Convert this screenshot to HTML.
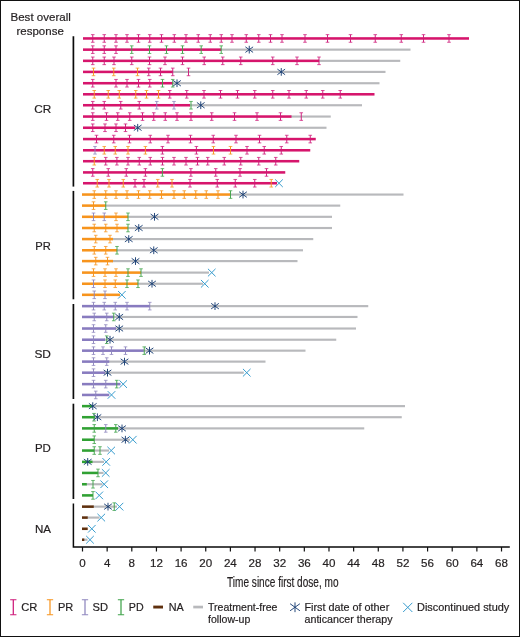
<!DOCTYPE html>
<html><head><meta charset="utf-8"><title>Swimmer plot</title>
<style>html,body{margin:0;padding:0;background:#fff}svg{display:block;will-change:transform}text{stroke:#231f20;stroke-width:.2px}</style></head>
<body>
<svg width="520" height="637" viewBox="0 0 520 637" font-family="'Liberation Sans', Arial, sans-serif" fill="#231f20">
<rect x="0" y="0" width="520" height="637" fill="#fff"/>
<rect x="83.00" y="37.18" width="386.00" height="2.55" fill="#D6156C"/>
<rect x="220.20" y="48.56" width="190.30" height="2.15" fill="#B8B9BC"/>
<rect x="83.00" y="48.37" width="138.20" height="2.55" fill="#D6156C"/>
<rect x="318.00" y="59.77" width="82.25" height="2.15" fill="#B8B9BC"/>
<rect x="83.00" y="59.57" width="236.00" height="2.55" fill="#D6156C"/>
<rect x="171.75" y="70.83" width="213.75" height="2.15" fill="#B8B9BC"/>
<rect x="83.00" y="70.63" width="89.75" height="2.55" fill="#D6156C"/>
<rect x="171.75" y="82.16" width="207.75" height="2.15" fill="#B8B9BC"/>
<rect x="83.00" y="81.95" width="89.75" height="2.55" fill="#D6156C"/>
<rect x="83.00" y="93.02" width="291.50" height="2.55" fill="#D6156C"/>
<rect x="189.00" y="104.17" width="173.00" height="2.15" fill="#B8B9BC"/>
<rect x="83.00" y="103.97" width="107.00" height="2.55" fill="#D6156C"/>
<rect x="290.50" y="115.48" width="40.25" height="2.15" fill="#B8B9BC"/>
<rect x="83.00" y="115.28" width="208.50" height="2.55" fill="#D6156C"/>
<rect x="134.00" y="126.69" width="192.50" height="2.15" fill="#B8B9BC"/>
<rect x="83.00" y="126.48" width="52.00" height="2.55" fill="#D6156C"/>
<rect x="83.00" y="137.81" width="232.75" height="2.55" fill="#D6156C"/>
<rect x="83.00" y="149.00" width="227.25" height="2.55" fill="#D6156C"/>
<rect x="83.00" y="159.94" width="216.25" height="2.55" fill="#D6156C"/>
<rect x="83.00" y="171.14" width="202.25" height="2.55" fill="#D6156C"/>
<rect x="83.00" y="181.97" width="194.00" height="2.55" fill="#D6156C"/>
<rect x="229.50" y="193.49" width="174.00" height="2.15" fill="#B8B9BC"/>
<rect x="82.00" y="193.28" width="148.50" height="2.55" fill="#F7941D"/>
<rect x="104.75" y="204.55" width="235.50" height="2.15" fill="#B8B9BC"/>
<rect x="82.00" y="204.34" width="23.75" height="2.55" fill="#F7941D"/>
<rect x="127.00" y="215.75" width="205.00" height="2.15" fill="#B8B9BC"/>
<rect x="82.00" y="215.54" width="46.00" height="2.55" fill="#F7941D"/>
<rect x="127.00" y="226.94" width="205.00" height="2.15" fill="#B8B9BC"/>
<rect x="82.00" y="226.73" width="46.00" height="2.55" fill="#F7941D"/>
<rect x="112.00" y="238.01" width="201.25" height="2.15" fill="#B8B9BC"/>
<rect x="82.00" y="237.81" width="31.00" height="2.55" fill="#F7941D"/>
<rect x="116.00" y="249.21" width="187.00" height="2.15" fill="#B8B9BC"/>
<rect x="82.00" y="249.00" width="35.00" height="2.55" fill="#F7941D"/>
<rect x="112.00" y="260.03" width="185.50" height="2.15" fill="#B8B9BC"/>
<rect x="82.00" y="259.83" width="31.00" height="2.55" fill="#F7941D"/>
<rect x="140.00" y="271.53" width="69.00" height="2.15" fill="#B8B9BC"/>
<rect x="82.00" y="271.33" width="59.00" height="2.55" fill="#F7941D"/>
<rect x="137.00" y="282.67" width="66.00" height="2.15" fill="#B8B9BC"/>
<rect x="82.00" y="282.47" width="56.00" height="2.55" fill="#F7941D"/>
<rect x="82.00" y="293.54" width="38.00" height="2.55" fill="#F7941D"/>
<rect x="148.75" y="305.06" width="219.50" height="2.15" fill="#B8B9BC"/>
<rect x="82.00" y="304.86" width="67.75" height="2.55" fill="#887BBF"/>
<rect x="112.75" y="315.88" width="244.75" height="2.15" fill="#B8B9BC"/>
<rect x="82.00" y="315.68" width="31.75" height="2.55" fill="#887BBF"/>
<rect x="115.00" y="327.44" width="241.00" height="2.15" fill="#B8B9BC"/>
<rect x="82.00" y="327.25" width="34.00" height="2.55" fill="#887BBF"/>
<rect x="104.00" y="338.65" width="232.25" height="2.15" fill="#B8B9BC"/>
<rect x="82.00" y="338.45" width="23.00" height="2.55" fill="#887BBF"/>
<rect x="142.75" y="349.59" width="162.75" height="2.15" fill="#B8B9BC"/>
<rect x="82.00" y="349.39" width="61.75" height="2.55" fill="#887BBF"/>
<rect x="108.25" y="360.54" width="157.25" height="2.15" fill="#B8B9BC"/>
<rect x="82.00" y="360.34" width="27.25" height="2.55" fill="#887BBF"/>
<rect x="104.00" y="371.61" width="139.75" height="2.15" fill="#B8B9BC"/>
<rect x="82.00" y="371.41" width="23.00" height="2.55" fill="#887BBF"/>
<rect x="82.00" y="382.85" width="38.50" height="2.55" fill="#887BBF"/>
<rect x="82.00" y="393.67" width="27.30" height="2.55" fill="#887BBF"/>
<rect x="91.50" y="405.06" width="313.50" height="2.15" fill="#B8B9BC"/>
<rect x="82.00" y="404.86" width="10.50" height="2.55" fill="#30A133"/>
<rect x="94.00" y="416.13" width="307.75" height="2.15" fill="#B8B9BC"/>
<rect x="82.00" y="415.94" width="13.00" height="2.55" fill="#30A133"/>
<rect x="117.00" y="427.32" width="247.25" height="2.15" fill="#B8B9BC"/>
<rect x="82.00" y="427.12" width="36.00" height="2.55" fill="#30A133"/>
<rect x="93.25" y="438.65" width="36.75" height="2.15" fill="#B8B9BC"/>
<rect x="82.00" y="438.45" width="12.25" height="2.55" fill="#30A133"/>
<rect x="93.25" y="449.47" width="15.75" height="2.15" fill="#B8B9BC"/>
<rect x="82.00" y="449.27" width="12.25" height="2.55" fill="#30A133"/>
<rect x="91.50" y="460.79" width="12.50" height="2.15" fill="#B8B9BC"/>
<rect x="82.00" y="460.59" width="10.50" height="2.55" fill="#30A133"/>
<rect x="97.00" y="471.86" width="6.50" height="2.15" fill="#B8B9BC"/>
<rect x="82.00" y="471.66" width="16.00" height="2.55" fill="#30A133"/>
<rect x="85.80" y="483.18" width="16.70" height="2.15" fill="#B8B9BC"/>
<rect x="82.00" y="482.98" width="4.80" height="2.55" fill="#30A133"/>
<rect x="82.00" y="494.12" width="11.00" height="2.55" fill="#30A133"/>
<rect x="92.75" y="505.56" width="24.25" height="2.15" fill="#B8B9BC"/>
<rect x="82.00" y="505.37" width="11.75" height="2.55" fill="#5F300E"/>
<rect x="86.70" y="516.51" width="12.80" height="2.15" fill="#B8B9BC"/>
<rect x="82.00" y="516.32" width="5.70" height="2.55" fill="#5F300E"/>
<rect x="82.00" y="527.50" width="5.70" height="2.55" fill="#5F300E"/>
<rect x="83.30" y="538.65" width="4.20" height="2.15" fill="#B8B9BC"/>
<rect x="82.00" y="538.46" width="2.30" height="2.55" fill="#5F300E"/>
<path d="M92.75 34.65V42.25" stroke="#CE1A79" stroke-width="0.95" fill="none"/><path d="M90.95 34.65H94.55M90.95 42.25H94.55" stroke="#CE1A79" stroke-width="0.75" fill="none"/>
<path d="M104.25 34.65V42.25" stroke="#CE1A79" stroke-width="0.95" fill="none"/><path d="M102.45 34.65H106.05M102.45 42.25H106.05" stroke="#CE1A79" stroke-width="0.75" fill="none"/>
<path d="M116.00 34.65V42.25" stroke="#CE1A79" stroke-width="0.95" fill="none"/><path d="M114.20 34.65H117.80M114.20 42.25H117.80" stroke="#CE1A79" stroke-width="0.75" fill="none"/>
<path d="M127.00 34.65V42.25" stroke="#CE1A79" stroke-width="0.95" fill="none"/><path d="M125.20 34.65H128.80M125.20 42.25H128.80" stroke="#CE1A79" stroke-width="0.75" fill="none"/>
<path d="M138.50 34.65V42.25" stroke="#CE1A79" stroke-width="0.95" fill="none"/><path d="M136.70 34.65H140.30M136.70 42.25H140.30" stroke="#CE1A79" stroke-width="0.75" fill="none"/>
<path d="M149.75 34.65V42.25" stroke="#CE1A79" stroke-width="0.95" fill="none"/><path d="M147.95 34.65H151.55M147.95 42.25H151.55" stroke="#CE1A79" stroke-width="0.75" fill="none"/>
<path d="M161.50 34.65V42.25" stroke="#CE1A79" stroke-width="0.95" fill="none"/><path d="M159.70 34.65H163.30M159.70 42.25H163.30" stroke="#CE1A79" stroke-width="0.75" fill="none"/>
<path d="M174.30 34.65V42.25" stroke="#CE1A79" stroke-width="0.95" fill="none"/><path d="M172.50 34.65H176.10M172.50 42.25H176.10" stroke="#CE1A79" stroke-width="0.75" fill="none"/>
<path d="M186.00 34.65V42.25" stroke="#CE1A79" stroke-width="0.95" fill="none"/><path d="M184.20 34.65H187.80M184.20 42.25H187.80" stroke="#CE1A79" stroke-width="0.75" fill="none"/>
<path d="M198.25 34.65V42.25" stroke="#CE1A79" stroke-width="0.95" fill="none"/><path d="M196.45 34.65H200.05M196.45 42.25H200.05" stroke="#CE1A79" stroke-width="0.75" fill="none"/>
<path d="M210.25 34.65V42.25" stroke="#CE1A79" stroke-width="0.95" fill="none"/><path d="M208.45 34.65H212.05M208.45 42.25H212.05" stroke="#CE1A79" stroke-width="0.75" fill="none"/>
<path d="M221.25 34.65V42.25" stroke="#CE1A79" stroke-width="0.95" fill="none"/><path d="M219.45 34.65H223.05M219.45 42.25H223.05" stroke="#CE1A79" stroke-width="0.75" fill="none"/>
<path d="M232.00 34.65V42.25" stroke="#CE1A79" stroke-width="0.95" fill="none"/><path d="M230.20 34.65H233.80M230.20 42.25H233.80" stroke="#CE1A79" stroke-width="0.75" fill="none"/>
<path d="M246.25 34.65V42.25" stroke="#CE1A79" stroke-width="0.95" fill="none"/><path d="M244.45 34.65H248.05M244.45 42.25H248.05" stroke="#CE1A79" stroke-width="0.75" fill="none"/>
<path d="M258.75 34.65V42.25" stroke="#CE1A79" stroke-width="0.95" fill="none"/><path d="M256.95 34.65H260.55M256.95 42.25H260.55" stroke="#CE1A79" stroke-width="0.75" fill="none"/>
<path d="M270.50 34.65V42.25" stroke="#CE1A79" stroke-width="0.95" fill="none"/><path d="M268.70 34.65H272.30M268.70 42.25H272.30" stroke="#CE1A79" stroke-width="0.75" fill="none"/>
<path d="M282.00 34.65V42.25" stroke="#CE1A79" stroke-width="0.95" fill="none"/><path d="M280.20 34.65H283.80M280.20 42.25H283.80" stroke="#CE1A79" stroke-width="0.75" fill="none"/>
<path d="M305.00 34.65V42.25" stroke="#CE1A79" stroke-width="0.95" fill="none"/><path d="M303.20 34.65H306.80M303.20 42.25H306.80" stroke="#CE1A79" stroke-width="0.75" fill="none"/>
<path d="M327.50 34.65V42.25" stroke="#CE1A79" stroke-width="0.95" fill="none"/><path d="M325.70 34.65H329.30M325.70 42.25H329.30" stroke="#CE1A79" stroke-width="0.75" fill="none"/>
<path d="M350.50 34.65V42.25" stroke="#CE1A79" stroke-width="0.95" fill="none"/><path d="M348.70 34.65H352.30M348.70 42.25H352.30" stroke="#CE1A79" stroke-width="0.75" fill="none"/>
<path d="M375.25 34.65V42.25" stroke="#CE1A79" stroke-width="0.95" fill="none"/><path d="M373.45 34.65H377.05M373.45 42.25H377.05" stroke="#CE1A79" stroke-width="0.75" fill="none"/>
<path d="M401.25 34.65V42.25" stroke="#CE1A79" stroke-width="0.95" fill="none"/><path d="M399.45 34.65H403.05M399.45 42.25H403.05" stroke="#CE1A79" stroke-width="0.75" fill="none"/>
<path d="M423.50 34.65V42.25" stroke="#CE1A79" stroke-width="0.95" fill="none"/><path d="M421.70 34.65H425.30M421.70 42.25H425.30" stroke="#CE1A79" stroke-width="0.75" fill="none"/>
<path d="M449.00 34.65V42.25" stroke="#CE1A79" stroke-width="0.95" fill="none"/><path d="M447.20 34.65H450.80M447.20 42.25H450.80" stroke="#CE1A79" stroke-width="0.75" fill="none"/>
<path d="M92.75 45.84V53.44" stroke="#CE1A79" stroke-width="0.95" fill="none"/><path d="M90.95 45.84H94.55M90.95 53.44H94.55" stroke="#CE1A79" stroke-width="0.75" fill="none"/>
<path d="M104.25 45.84V53.44" stroke="#CE1A79" stroke-width="0.95" fill="none"/><path d="M102.45 45.84H106.05M102.45 53.44H106.05" stroke="#CE1A79" stroke-width="0.75" fill="none"/>
<path d="M116.00 45.84V53.44" stroke="#CE1A79" stroke-width="0.95" fill="none"/><path d="M114.20 45.84H117.80M114.20 53.44H117.80" stroke="#CE1A79" stroke-width="0.75" fill="none"/>
<path d="M131.75 45.84V53.44" stroke="#3FA34A" stroke-width="0.95" fill="none"/><path d="M129.95 45.84H133.55M129.95 53.44H133.55" stroke="#3FA34A" stroke-width="0.75" fill="none"/>
<path d="M149.50 45.84V53.44" stroke="#3FA34A" stroke-width="0.95" fill="none"/><path d="M147.70 45.84H151.30M147.70 53.44H151.30" stroke="#3FA34A" stroke-width="0.75" fill="none"/>
<path d="M166.50 45.84V53.44" stroke="#3FA34A" stroke-width="0.95" fill="none"/><path d="M164.70 45.84H168.30M164.70 53.44H168.30" stroke="#3FA34A" stroke-width="0.75" fill="none"/>
<path d="M182.50 45.84V53.44" stroke="#3FA34A" stroke-width="0.95" fill="none"/><path d="M180.70 45.84H184.30M180.70 53.44H184.30" stroke="#3FA34A" stroke-width="0.75" fill="none"/>
<path d="M201.20 45.84V53.44" stroke="#3FA34A" stroke-width="0.95" fill="none"/><path d="M199.40 45.84H203.00M199.40 53.44H203.00" stroke="#3FA34A" stroke-width="0.75" fill="none"/>
<path d="M221.20 45.84V53.44" stroke="#3FA34A" stroke-width="0.95" fill="none"/><path d="M219.40 45.84H223.00M219.40 53.44H223.00" stroke="#3FA34A" stroke-width="0.75" fill="none"/>
<path d="M249.25 45.79V53.49M245.40 46.87L253.10 52.41M245.40 52.41L253.10 46.87" stroke="#1B4075" stroke-width="0.95" fill="none"/>
<path d="M92.75 57.04V64.64" stroke="#CE1A79" stroke-width="0.95" fill="none"/><path d="M90.95 57.04H94.55M90.95 64.64H94.55" stroke="#CE1A79" stroke-width="0.75" fill="none"/>
<path d="M104.25 57.04V64.64" stroke="#CE1A79" stroke-width="0.95" fill="none"/><path d="M102.45 57.04H106.05M102.45 64.64H106.05" stroke="#CE1A79" stroke-width="0.75" fill="none"/>
<path d="M114.00 57.04V64.64" stroke="#CE1A79" stroke-width="0.95" fill="none"/><path d="M112.20 57.04H115.80M112.20 64.64H115.80" stroke="#CE1A79" stroke-width="0.75" fill="none"/>
<path d="M131.75 57.04V64.64" stroke="#CE1A79" stroke-width="0.95" fill="none"/><path d="M129.95 57.04H133.55M129.95 64.64H133.55" stroke="#CE1A79" stroke-width="0.75" fill="none"/>
<path d="M149.50 57.04V64.64" stroke="#CE1A79" stroke-width="0.95" fill="none"/><path d="M147.70 57.04H151.30M147.70 64.64H151.30" stroke="#CE1A79" stroke-width="0.75" fill="none"/>
<path d="M165.00 57.04V64.64" stroke="#CE1A79" stroke-width="0.95" fill="none"/><path d="M163.20 57.04H166.80M163.20 64.64H166.80" stroke="#CE1A79" stroke-width="0.75" fill="none"/>
<path d="M182.50 57.04V64.64" stroke="#CE1A79" stroke-width="0.95" fill="none"/><path d="M180.70 57.04H184.30M180.70 64.64H184.30" stroke="#CE1A79" stroke-width="0.75" fill="none"/>
<path d="M204.20 57.04V64.64" stroke="#CE1A79" stroke-width="0.95" fill="none"/><path d="M202.40 57.04H206.00M202.40 64.64H206.00" stroke="#CE1A79" stroke-width="0.75" fill="none"/>
<path d="M222.75 57.04V64.64" stroke="#CE1A79" stroke-width="0.95" fill="none"/><path d="M220.95 57.04H224.55M220.95 64.64H224.55" stroke="#CE1A79" stroke-width="0.75" fill="none"/>
<path d="M240.75 57.04V64.64" stroke="#CE1A79" stroke-width="0.95" fill="none"/><path d="M238.95 57.04H242.55M238.95 64.64H242.55" stroke="#CE1A79" stroke-width="0.75" fill="none"/>
<path d="M272.75 57.04V64.64" stroke="#CE1A79" stroke-width="0.95" fill="none"/><path d="M270.95 57.04H274.55M270.95 64.64H274.55" stroke="#CE1A79" stroke-width="0.75" fill="none"/>
<path d="M297.00 57.04V64.64" stroke="#CE1A79" stroke-width="0.95" fill="none"/><path d="M295.20 57.04H298.80M295.20 64.64H298.80" stroke="#CE1A79" stroke-width="0.75" fill="none"/>
<path d="M319.00 57.04V64.64" stroke="#CE1A79" stroke-width="0.95" fill="none"/><path d="M317.20 57.04H320.80M317.20 64.64H320.80" stroke="#CE1A79" stroke-width="0.75" fill="none"/>
<path d="M93.50 68.11V75.71" stroke="#F7941D" stroke-width="0.95" fill="none"/><path d="M91.70 68.11H95.30M91.70 75.71H95.30" stroke="#F7941D" stroke-width="0.75" fill="none"/>
<path d="M113.75 68.11V75.71" stroke="#F7941D" stroke-width="0.95" fill="none"/><path d="M111.95 68.11H115.55M111.95 75.71H115.55" stroke="#F7941D" stroke-width="0.75" fill="none"/>
<path d="M137.50 68.11V75.71" stroke="#F7941D" stroke-width="0.95" fill="none"/><path d="M135.70 68.11H139.30M135.70 75.71H139.30" stroke="#F7941D" stroke-width="0.75" fill="none"/>
<path d="M148.75 68.11V75.71" stroke="#CE1A79" stroke-width="0.95" fill="none"/><path d="M146.95 68.11H150.55M146.95 75.71H150.55" stroke="#CE1A79" stroke-width="0.75" fill="none"/>
<path d="M160.50 68.11V75.71" stroke="#CE1A79" stroke-width="0.95" fill="none"/><path d="M158.70 68.11H162.30M158.70 75.71H162.30" stroke="#CE1A79" stroke-width="0.75" fill="none"/>
<path d="M172.75 68.11V75.71" stroke="#CE1A79" stroke-width="0.95" fill="none"/><path d="M170.95 68.11H174.55M170.95 75.71H174.55" stroke="#CE1A79" stroke-width="0.75" fill="none"/>
<path d="M188.50 68.11V75.71" stroke="#CE1A79" stroke-width="0.95" fill="none"/><path d="M186.70 68.11H190.30M186.70 75.71H190.30" stroke="#CE1A79" stroke-width="0.75" fill="none"/>
<path d="M281.25 68.06V75.76M277.40 69.14L285.10 74.68M277.40 74.68L285.10 69.14" stroke="#1B4075" stroke-width="0.95" fill="none"/>
<path d="M92.75 79.43V87.03" stroke="#CE1A79" stroke-width="0.95" fill="none"/><path d="M90.95 79.43H94.55M90.95 87.03H94.55" stroke="#CE1A79" stroke-width="0.75" fill="none"/>
<path d="M116.00 79.43V87.03" stroke="#CE1A79" stroke-width="0.95" fill="none"/><path d="M114.20 79.43H117.80M114.20 87.03H117.80" stroke="#CE1A79" stroke-width="0.75" fill="none"/>
<path d="M127.00 79.43V87.03" stroke="#CE1A79" stroke-width="0.95" fill="none"/><path d="M125.20 79.43H128.80M125.20 87.03H128.80" stroke="#CE1A79" stroke-width="0.75" fill="none"/>
<path d="M138.50 79.43V87.03" stroke="#CE1A79" stroke-width="0.95" fill="none"/><path d="M136.70 79.43H140.30M136.70 87.03H140.30" stroke="#CE1A79" stroke-width="0.75" fill="none"/>
<path d="M149.75 79.43V87.03" stroke="#CE1A79" stroke-width="0.95" fill="none"/><path d="M147.95 79.43H151.55M147.95 87.03H151.55" stroke="#CE1A79" stroke-width="0.75" fill="none"/>
<path d="M162.50 79.43V87.03" stroke="#3FA34A" stroke-width="0.95" fill="none"/><path d="M160.70 79.43H164.30M160.70 87.03H164.30" stroke="#3FA34A" stroke-width="0.75" fill="none"/>
<path d="M172.75 79.43V87.03" stroke="#3FA34A" stroke-width="0.95" fill="none"/><path d="M170.95 79.43H174.55M170.95 87.03H174.55" stroke="#3FA34A" stroke-width="0.75" fill="none"/>
<path d="M177.00 79.38V87.08M173.15 80.46L180.85 86.00M173.15 86.00L180.85 80.46" stroke="#1B4075" stroke-width="0.95" fill="none"/>
<path d="M94.25 90.50V98.10" stroke="#F7941D" stroke-width="0.95" fill="none"/><path d="M92.45 90.50H96.05M92.45 98.10H96.05" stroke="#F7941D" stroke-width="0.75" fill="none"/>
<path d="M108.25 90.50V98.10" stroke="#F7941D" stroke-width="0.95" fill="none"/><path d="M106.45 90.50H110.05M106.45 98.10H110.05" stroke="#F7941D" stroke-width="0.75" fill="none"/>
<path d="M119.25 90.50V98.10" stroke="#F7941D" stroke-width="0.95" fill="none"/><path d="M117.45 90.50H121.05M117.45 98.10H121.05" stroke="#F7941D" stroke-width="0.75" fill="none"/>
<path d="M135.75 90.50V98.10" stroke="#F7941D" stroke-width="0.95" fill="none"/><path d="M133.95 90.50H137.55M133.95 98.10H137.55" stroke="#F7941D" stroke-width="0.75" fill="none"/>
<path d="M146.50 90.50V98.10" stroke="#F7941D" stroke-width="0.95" fill="none"/><path d="M144.70 90.50H148.30M144.70 98.10H148.30" stroke="#F7941D" stroke-width="0.75" fill="none"/>
<path d="M158.50 90.50V98.10" stroke="#F7941D" stroke-width="0.95" fill="none"/><path d="M156.70 90.50H160.30M156.70 98.10H160.30" stroke="#F7941D" stroke-width="0.75" fill="none"/>
<path d="M169.75 90.50V98.10" stroke="#CE1A79" stroke-width="0.95" fill="none"/><path d="M167.95 90.50H171.55M167.95 98.10H171.55" stroke="#CE1A79" stroke-width="0.75" fill="none"/>
<path d="M186.75 90.50V98.10" stroke="#CE1A79" stroke-width="0.95" fill="none"/><path d="M184.95 90.50H188.55M184.95 98.10H188.55" stroke="#CE1A79" stroke-width="0.75" fill="none"/>
<path d="M204.00 90.50V98.10" stroke="#CE1A79" stroke-width="0.95" fill="none"/><path d="M202.20 90.50H205.80M202.20 98.10H205.80" stroke="#CE1A79" stroke-width="0.75" fill="none"/>
<path d="M220.50 90.50V98.10" stroke="#CE1A79" stroke-width="0.95" fill="none"/><path d="M218.70 90.50H222.30M218.70 98.10H222.30" stroke="#CE1A79" stroke-width="0.75" fill="none"/>
<path d="M237.50 90.50V98.10" stroke="#CE1A79" stroke-width="0.95" fill="none"/><path d="M235.70 90.50H239.30M235.70 98.10H239.30" stroke="#CE1A79" stroke-width="0.75" fill="none"/>
<path d="M254.75 90.50V98.10" stroke="#CE1A79" stroke-width="0.95" fill="none"/><path d="M252.95 90.50H256.55M252.95 98.10H256.55" stroke="#CE1A79" stroke-width="0.75" fill="none"/>
<path d="M272.75 90.50V98.10" stroke="#CE1A79" stroke-width="0.95" fill="none"/><path d="M270.95 90.50H274.55M270.95 98.10H274.55" stroke="#CE1A79" stroke-width="0.75" fill="none"/>
<path d="M289.00 90.50V98.10" stroke="#CE1A79" stroke-width="0.95" fill="none"/><path d="M287.20 90.50H290.80M287.20 98.10H290.80" stroke="#CE1A79" stroke-width="0.75" fill="none"/>
<path d="M306.25 90.50V98.10" stroke="#CE1A79" stroke-width="0.95" fill="none"/><path d="M304.45 90.50H308.05M304.45 98.10H308.05" stroke="#CE1A79" stroke-width="0.75" fill="none"/>
<path d="M322.75 90.50V98.10" stroke="#CE1A79" stroke-width="0.95" fill="none"/><path d="M320.95 90.50H324.55M320.95 98.10H324.55" stroke="#CE1A79" stroke-width="0.75" fill="none"/>
<path d="M340.25 90.50V98.10" stroke="#CE1A79" stroke-width="0.95" fill="none"/><path d="M338.45 90.50H342.05M338.45 98.10H342.05" stroke="#CE1A79" stroke-width="0.75" fill="none"/>
<path d="M92.75 101.45V109.05" stroke="#CE1A79" stroke-width="0.95" fill="none"/><path d="M90.95 101.45H94.55M90.95 109.05H94.55" stroke="#CE1A79" stroke-width="0.75" fill="none"/>
<path d="M104.25 101.45V109.05" stroke="#CE1A79" stroke-width="0.95" fill="none"/><path d="M102.45 101.45H106.05M102.45 109.05H106.05" stroke="#CE1A79" stroke-width="0.75" fill="none"/>
<path d="M120.75 101.45V109.05" stroke="#CE1A79" stroke-width="0.95" fill="none"/><path d="M118.95 101.45H122.55M118.95 109.05H122.55" stroke="#CE1A79" stroke-width="0.75" fill="none"/>
<path d="M139.25 101.45V109.05" stroke="#CE1A79" stroke-width="0.95" fill="none"/><path d="M137.45 101.45H141.05M137.45 109.05H141.05" stroke="#CE1A79" stroke-width="0.75" fill="none"/>
<path d="M156.75 101.45V109.05" stroke="#8E86BE" stroke-width="0.95" fill="none"/><path d="M154.95 101.45H158.55M154.95 109.05H158.55" stroke="#8E86BE" stroke-width="0.75" fill="none"/>
<path d="M174.00 101.45V109.05" stroke="#8E86BE" stroke-width="0.95" fill="none"/><path d="M172.20 101.45H175.80M172.20 109.05H175.80" stroke="#8E86BE" stroke-width="0.75" fill="none"/>
<path d="M191.00 101.45V109.05" stroke="#3FA34A" stroke-width="0.95" fill="none"/><path d="M189.20 101.45H192.80M189.20 109.05H192.80" stroke="#3FA34A" stroke-width="0.75" fill="none"/>
<path d="M200.75 101.40V109.10M196.90 102.48L204.60 108.02M196.90 108.02L204.60 102.48" stroke="#1B4075" stroke-width="0.95" fill="none"/>
<path d="M92.75 112.76V120.36" stroke="#CE1A79" stroke-width="0.95" fill="none"/><path d="M90.95 112.76H94.55M90.95 120.36H94.55" stroke="#CE1A79" stroke-width="0.75" fill="none"/>
<path d="M106.50 112.76V120.36" stroke="#CE1A79" stroke-width="0.95" fill="none"/><path d="M104.70 112.76H108.30M104.70 120.36H108.30" stroke="#CE1A79" stroke-width="0.75" fill="none"/>
<path d="M117.75 112.76V120.36" stroke="#CE1A79" stroke-width="0.95" fill="none"/><path d="M115.95 112.76H119.55M115.95 120.36H119.55" stroke="#CE1A79" stroke-width="0.75" fill="none"/>
<path d="M129.75 112.76V120.36" stroke="#CE1A79" stroke-width="0.95" fill="none"/><path d="M127.95 112.76H131.55M127.95 120.36H131.55" stroke="#CE1A79" stroke-width="0.75" fill="none"/>
<path d="M142.50 112.76V120.36" stroke="#CE1A79" stroke-width="0.95" fill="none"/><path d="M140.70 112.76H144.30M140.70 120.36H144.30" stroke="#CE1A79" stroke-width="0.75" fill="none"/>
<path d="M153.75 112.76V120.36" stroke="#CE1A79" stroke-width="0.95" fill="none"/><path d="M151.95 112.76H155.55M151.95 120.36H155.55" stroke="#CE1A79" stroke-width="0.75" fill="none"/>
<path d="M165.25 112.76V120.36" stroke="#CE1A79" stroke-width="0.95" fill="none"/><path d="M163.45 112.76H167.05M163.45 120.36H167.05" stroke="#CE1A79" stroke-width="0.75" fill="none"/>
<path d="M177.00 112.76V120.36" stroke="#CE1A79" stroke-width="0.95" fill="none"/><path d="M175.20 112.76H178.80M175.20 120.36H178.80" stroke="#CE1A79" stroke-width="0.75" fill="none"/>
<path d="M191.00 112.76V120.36" stroke="#CE1A79" stroke-width="0.95" fill="none"/><path d="M189.20 112.76H192.80M189.20 120.36H192.80" stroke="#CE1A79" stroke-width="0.75" fill="none"/>
<path d="M211.75 112.76V120.36" stroke="#CE1A79" stroke-width="0.95" fill="none"/><path d="M209.95 112.76H213.55M209.95 120.36H213.55" stroke="#CE1A79" stroke-width="0.75" fill="none"/>
<path d="M234.50 112.76V120.36" stroke="#CE1A79" stroke-width="0.95" fill="none"/><path d="M232.70 112.76H236.30M232.70 120.36H236.30" stroke="#CE1A79" stroke-width="0.75" fill="none"/>
<path d="M257.00 112.76V120.36" stroke="#CE1A79" stroke-width="0.95" fill="none"/><path d="M255.20 112.76H258.80M255.20 120.36H258.80" stroke="#CE1A79" stroke-width="0.75" fill="none"/>
<path d="M280.50 112.76V120.36" stroke="#CE1A79" stroke-width="0.95" fill="none"/><path d="M278.70 112.76H282.30M278.70 120.36H282.30" stroke="#CE1A79" stroke-width="0.75" fill="none"/>
<path d="M301.25 112.76V120.36" stroke="#CE1A79" stroke-width="0.95" fill="none"/><path d="M299.45 112.76H303.05M299.45 120.36H303.05" stroke="#CE1A79" stroke-width="0.75" fill="none"/>
<path d="M92.75 123.96V131.56" stroke="#CE1A79" stroke-width="0.95" fill="none"/><path d="M90.95 123.96H94.55M90.95 131.56H94.55" stroke="#CE1A79" stroke-width="0.75" fill="none"/>
<path d="M105.00 123.96V131.56" stroke="#CE1A79" stroke-width="0.95" fill="none"/><path d="M103.20 123.96H106.80M103.20 131.56H106.80" stroke="#CE1A79" stroke-width="0.75" fill="none"/>
<path d="M116.00 123.96V131.56" stroke="#CE1A79" stroke-width="0.95" fill="none"/><path d="M114.20 123.96H117.80M114.20 131.56H117.80" stroke="#CE1A79" stroke-width="0.75" fill="none"/>
<path d="M125.50 123.96V131.56" stroke="#CE1A79" stroke-width="0.95" fill="none"/><path d="M123.70 123.96H127.30M123.70 131.56H127.30" stroke="#CE1A79" stroke-width="0.75" fill="none"/>
<path d="M137.70 123.91V131.61M133.85 124.99L141.55 130.53M133.85 130.53L141.55 124.99" stroke="#1B4075" stroke-width="0.95" fill="none"/>
<path d="M96.50 135.28V142.88" stroke="#CE1A79" stroke-width="0.95" fill="none"/><path d="M94.70 135.28H98.30M94.70 142.88H98.30" stroke="#CE1A79" stroke-width="0.75" fill="none"/>
<path d="M113.75 135.28V142.88" stroke="#CE1A79" stroke-width="0.95" fill="none"/><path d="M111.95 135.28H115.55M111.95 142.88H115.55" stroke="#CE1A79" stroke-width="0.75" fill="none"/>
<path d="M129.50 135.28V142.88" stroke="#CE1A79" stroke-width="0.95" fill="none"/><path d="M127.70 135.28H131.30M127.70 142.88H131.30" stroke="#CE1A79" stroke-width="0.75" fill="none"/>
<path d="M150.25 135.28V142.88" stroke="#CE1A79" stroke-width="0.95" fill="none"/><path d="M148.45 135.28H152.05M148.45 142.88H152.05" stroke="#CE1A79" stroke-width="0.75" fill="none"/>
<path d="M168.00 135.28V142.88" stroke="#CE1A79" stroke-width="0.95" fill="none"/><path d="M166.20 135.28H169.80M166.20 142.88H169.80" stroke="#CE1A79" stroke-width="0.75" fill="none"/>
<path d="M190.50 135.28V142.88" stroke="#CE1A79" stroke-width="0.95" fill="none"/><path d="M188.70 135.28H192.30M188.70 142.88H192.30" stroke="#CE1A79" stroke-width="0.75" fill="none"/>
<path d="M213.25 135.28V142.88" stroke="#CE1A79" stroke-width="0.95" fill="none"/><path d="M211.45 135.28H215.05M211.45 142.88H215.05" stroke="#CE1A79" stroke-width="0.75" fill="none"/>
<path d="M236.00 135.28V142.88" stroke="#CE1A79" stroke-width="0.95" fill="none"/><path d="M234.20 135.28H237.80M234.20 142.88H237.80" stroke="#CE1A79" stroke-width="0.75" fill="none"/>
<path d="M259.50 135.28V142.88" stroke="#CE1A79" stroke-width="0.95" fill="none"/><path d="M257.70 135.28H261.30M257.70 142.88H261.30" stroke="#CE1A79" stroke-width="0.75" fill="none"/>
<path d="M286.75 135.28V142.88" stroke="#CE1A79" stroke-width="0.95" fill="none"/><path d="M284.95 135.28H288.55M284.95 142.88H288.55" stroke="#CE1A79" stroke-width="0.75" fill="none"/>
<path d="M310.25 135.28V142.88" stroke="#CE1A79" stroke-width="0.95" fill="none"/><path d="M308.45 135.28H312.05M308.45 142.88H312.05" stroke="#CE1A79" stroke-width="0.75" fill="none"/>
<path d="M95.00 146.47V154.07" stroke="#8E86BE" stroke-width="0.95" fill="none"/><path d="M93.20 146.47H96.80M93.20 154.07H96.80" stroke="#8E86BE" stroke-width="0.75" fill="none"/>
<path d="M104.25 146.47V154.07" stroke="#F7941D" stroke-width="0.95" fill="none"/><path d="M102.45 146.47H106.05M102.45 154.07H106.05" stroke="#F7941D" stroke-width="0.75" fill="none"/>
<path d="M115.25 146.47V154.07" stroke="#F7941D" stroke-width="0.95" fill="none"/><path d="M113.45 146.47H117.05M113.45 154.07H117.05" stroke="#F7941D" stroke-width="0.75" fill="none"/>
<path d="M128.00 146.47V154.07" stroke="#F7941D" stroke-width="0.95" fill="none"/><path d="M126.20 146.47H129.80M126.20 154.07H129.80" stroke="#F7941D" stroke-width="0.75" fill="none"/>
<path d="M145.40 146.47V154.07" stroke="#F7941D" stroke-width="0.95" fill="none"/><path d="M143.60 146.47H147.20M143.60 154.07H147.20" stroke="#F7941D" stroke-width="0.75" fill="none"/>
<path d="M162.40 146.47V154.07" stroke="#CE1A79" stroke-width="0.95" fill="none"/><path d="M160.60 146.47H164.20M160.60 154.07H164.20" stroke="#CE1A79" stroke-width="0.75" fill="none"/>
<path d="M196.40 146.47V154.07" stroke="#CE1A79" stroke-width="0.95" fill="none"/><path d="M194.60 146.47H198.20M194.60 154.07H198.20" stroke="#CE1A79" stroke-width="0.75" fill="none"/>
<path d="M213.50 146.47V154.07" stroke="#F7941D" stroke-width="0.95" fill="none"/><path d="M211.70 146.47H215.30M211.70 154.07H215.30" stroke="#F7941D" stroke-width="0.75" fill="none"/>
<path d="M230.50 146.47V154.07" stroke="#F7941D" stroke-width="0.95" fill="none"/><path d="M228.70 146.47H232.30M228.70 154.07H232.30" stroke="#F7941D" stroke-width="0.75" fill="none"/>
<path d="M247.00 146.47V154.07" stroke="#CE1A79" stroke-width="0.95" fill="none"/><path d="M245.20 146.47H248.80M245.20 154.07H248.80" stroke="#CE1A79" stroke-width="0.75" fill="none"/>
<path d="M264.25 146.47V154.07" stroke="#CE1A79" stroke-width="0.95" fill="none"/><path d="M262.45 146.47H266.05M262.45 154.07H266.05" stroke="#CE1A79" stroke-width="0.75" fill="none"/>
<path d="M281.25 146.47V154.07" stroke="#CE1A79" stroke-width="0.95" fill="none"/><path d="M279.45 146.47H283.05M279.45 154.07H283.05" stroke="#CE1A79" stroke-width="0.75" fill="none"/>
<path d="M94.25 157.42V165.02" stroke="#F7941D" stroke-width="0.95" fill="none"/><path d="M92.45 157.42H96.05M92.45 165.02H96.05" stroke="#F7941D" stroke-width="0.75" fill="none"/>
<path d="M105.75 157.42V165.02" stroke="#CE1A79" stroke-width="0.95" fill="none"/><path d="M103.95 157.42H107.55M103.95 165.02H107.55" stroke="#CE1A79" stroke-width="0.75" fill="none"/>
<path d="M116.90 157.42V165.02" stroke="#CE1A79" stroke-width="0.95" fill="none"/><path d="M115.10 157.42H118.70M115.10 165.02H118.70" stroke="#CE1A79" stroke-width="0.75" fill="none"/>
<path d="M128.00 157.42V165.02" stroke="#CE1A79" stroke-width="0.95" fill="none"/><path d="M126.20 157.42H129.80M126.20 165.02H129.80" stroke="#CE1A79" stroke-width="0.75" fill="none"/>
<path d="M139.25 157.42V165.02" stroke="#CE1A79" stroke-width="0.95" fill="none"/><path d="M137.45 157.42H141.05M137.45 165.02H141.05" stroke="#CE1A79" stroke-width="0.75" fill="none"/>
<path d="M150.25 157.42V165.02" stroke="#CE1A79" stroke-width="0.95" fill="none"/><path d="M148.45 157.42H152.05M148.45 165.02H152.05" stroke="#CE1A79" stroke-width="0.75" fill="none"/>
<path d="M162.50 157.42V165.02" stroke="#CE1A79" stroke-width="0.95" fill="none"/><path d="M160.70 157.42H164.30M160.70 165.02H164.30" stroke="#CE1A79" stroke-width="0.75" fill="none"/>
<path d="M174.00 157.42V165.02" stroke="#CE1A79" stroke-width="0.95" fill="none"/><path d="M172.20 157.42H175.80M172.20 165.02H175.80" stroke="#CE1A79" stroke-width="0.75" fill="none"/>
<path d="M186.00 157.42V165.02" stroke="#CE1A79" stroke-width="0.95" fill="none"/><path d="M184.20 157.42H187.80M184.20 165.02H187.80" stroke="#CE1A79" stroke-width="0.75" fill="none"/>
<path d="M197.50 157.42V165.02" stroke="#CE1A79" stroke-width="0.95" fill="none"/><path d="M195.70 157.42H199.30M195.70 165.02H199.30" stroke="#CE1A79" stroke-width="0.75" fill="none"/>
<path d="M207.75 157.42V165.02" stroke="#CE1A79" stroke-width="0.95" fill="none"/><path d="M205.95 157.42H209.55M205.95 165.02H209.55" stroke="#CE1A79" stroke-width="0.75" fill="none"/>
<path d="M224.25 157.42V165.02" stroke="#CE1A79" stroke-width="0.95" fill="none"/><path d="M222.45 157.42H226.05M222.45 165.02H226.05" stroke="#CE1A79" stroke-width="0.75" fill="none"/>
<path d="M240.75 157.42V165.02" stroke="#CE1A79" stroke-width="0.95" fill="none"/><path d="M238.95 157.42H242.55M238.95 165.02H242.55" stroke="#CE1A79" stroke-width="0.75" fill="none"/>
<path d="M258.75 157.42V165.02" stroke="#CE1A79" stroke-width="0.95" fill="none"/><path d="M256.95 157.42H260.55M256.95 165.02H260.55" stroke="#CE1A79" stroke-width="0.75" fill="none"/>
<path d="M275.75 157.42V165.02" stroke="#CE1A79" stroke-width="0.95" fill="none"/><path d="M273.95 157.42H277.55M273.95 165.02H277.55" stroke="#CE1A79" stroke-width="0.75" fill="none"/>
<path d="M92.75 168.62V176.22" stroke="#CE1A79" stroke-width="0.95" fill="none"/><path d="M90.95 168.62H94.55M90.95 176.22H94.55" stroke="#CE1A79" stroke-width="0.75" fill="none"/>
<path d="M108.25 168.62V176.22" stroke="#CE1A79" stroke-width="0.95" fill="none"/><path d="M106.45 168.62H110.05M106.45 176.22H110.05" stroke="#CE1A79" stroke-width="0.75" fill="none"/>
<path d="M126.25 168.62V176.22" stroke="#CE1A79" stroke-width="0.95" fill="none"/><path d="M124.45 168.62H128.05M124.45 176.22H128.05" stroke="#CE1A79" stroke-width="0.75" fill="none"/>
<path d="M145.40 168.62V176.22" stroke="#CE1A79" stroke-width="0.95" fill="none"/><path d="M143.60 168.62H147.20M143.60 176.22H147.20" stroke="#CE1A79" stroke-width="0.75" fill="none"/>
<path d="M162.40 168.62V176.22" stroke="#3FA34A" stroke-width="0.95" fill="none"/><path d="M160.60 168.62H164.20M160.60 176.22H164.20" stroke="#3FA34A" stroke-width="0.75" fill="none"/>
<path d="M190.90 168.62V176.22" stroke="#CE1A79" stroke-width="0.95" fill="none"/><path d="M189.10 168.62H192.70M189.10 176.22H192.70" stroke="#CE1A79" stroke-width="0.75" fill="none"/>
<path d="M215.75 168.62V176.22" stroke="#CE1A79" stroke-width="0.95" fill="none"/><path d="M213.95 168.62H217.55M213.95 176.22H217.55" stroke="#CE1A79" stroke-width="0.75" fill="none"/>
<path d="M240.00 168.62V176.22" stroke="#CE1A79" stroke-width="0.95" fill="none"/><path d="M238.20 168.62H241.80M238.20 176.22H241.80" stroke="#CE1A79" stroke-width="0.75" fill="none"/>
<path d="M266.50 168.62V176.22" stroke="#CE1A79" stroke-width="0.95" fill="none"/><path d="M264.70 168.62H268.30M264.70 176.22H268.30" stroke="#CE1A79" stroke-width="0.75" fill="none"/>
<path d="M97.25 179.44V187.04" stroke="#F7941D" stroke-width="0.95" fill="none"/><path d="M95.45 179.44H99.05M95.45 187.04H99.05" stroke="#F7941D" stroke-width="0.75" fill="none"/>
<path d="M109.00 179.44V187.04" stroke="#F7941D" stroke-width="0.95" fill="none"/><path d="M107.20 179.44H110.80M107.20 187.04H110.80" stroke="#F7941D" stroke-width="0.75" fill="none"/>
<path d="M123.25 179.44V187.04" stroke="#F7941D" stroke-width="0.95" fill="none"/><path d="M121.45 179.44H125.05M121.45 187.04H125.05" stroke="#F7941D" stroke-width="0.75" fill="none"/>
<path d="M135.00 179.44V187.04" stroke="#CE1A79" stroke-width="0.95" fill="none"/><path d="M133.20 179.44H136.80M133.20 187.04H136.80" stroke="#CE1A79" stroke-width="0.75" fill="none"/>
<path d="M144.00 179.44V187.04" stroke="#CE1A79" stroke-width="0.95" fill="none"/><path d="M142.20 179.44H145.80M142.20 187.04H145.80" stroke="#CE1A79" stroke-width="0.75" fill="none"/>
<path d="M157.75 179.44V187.04" stroke="#F7941D" stroke-width="0.95" fill="none"/><path d="M155.95 179.44H159.55M155.95 187.04H159.55" stroke="#F7941D" stroke-width="0.75" fill="none"/>
<path d="M172.00 179.44V187.04" stroke="#F7941D" stroke-width="0.95" fill="none"/><path d="M170.20 179.44H173.80M170.20 187.04H173.80" stroke="#F7941D" stroke-width="0.75" fill="none"/>
<path d="M190.00 179.44V187.04" stroke="#CE1A79" stroke-width="0.95" fill="none"/><path d="M188.20 179.44H191.80M188.20 187.04H191.80" stroke="#CE1A79" stroke-width="0.75" fill="none"/>
<path d="M217.25 179.44V187.04" stroke="#CE1A79" stroke-width="0.95" fill="none"/><path d="M215.45 179.44H219.05M215.45 187.04H219.05" stroke="#CE1A79" stroke-width="0.75" fill="none"/>
<path d="M235.25 179.44V187.04" stroke="#CE1A79" stroke-width="0.95" fill="none"/><path d="M233.45 179.44H237.05M233.45 187.04H237.05" stroke="#CE1A79" stroke-width="0.75" fill="none"/>
<path d="M254.75 179.44V187.04" stroke="#CE1A79" stroke-width="0.95" fill="none"/><path d="M252.95 179.44H256.55M252.95 187.04H256.55" stroke="#CE1A79" stroke-width="0.75" fill="none"/>
<path d="M271.25 179.44V187.04" stroke="#F7941D" stroke-width="0.95" fill="none"/><path d="M269.45 179.44H273.05M269.45 187.04H273.05" stroke="#F7941D" stroke-width="0.75" fill="none"/>
<path d="M275.20 179.44L282.80 187.04M275.20 187.04L282.80 179.44" stroke="#379CCE" stroke-width="1.0" fill="none"/>
<path d="M94.25 190.76V198.36" stroke="#F7941D" stroke-width="0.95" fill="none"/><path d="M92.45 190.76H96.05M92.45 198.36H96.05" stroke="#F7941D" stroke-width="0.75" fill="none"/>
<path d="M105.75 190.76V198.36" stroke="#F7941D" stroke-width="0.95" fill="none"/><path d="M103.95 190.76H107.55M103.95 198.36H107.55" stroke="#F7941D" stroke-width="0.75" fill="none"/>
<path d="M116.00 190.76V198.36" stroke="#F7941D" stroke-width="0.95" fill="none"/><path d="M114.20 190.76H117.80M114.20 198.36H117.80" stroke="#F7941D" stroke-width="0.75" fill="none"/>
<path d="M127.00 190.76V198.36" stroke="#F7941D" stroke-width="0.95" fill="none"/><path d="M125.20 190.76H128.80M125.20 198.36H128.80" stroke="#F7941D" stroke-width="0.75" fill="none"/>
<path d="M138.50 190.76V198.36" stroke="#F7941D" stroke-width="0.95" fill="none"/><path d="M136.70 190.76H140.30M136.70 198.36H140.30" stroke="#F7941D" stroke-width="0.75" fill="none"/>
<path d="M149.75 190.76V198.36" stroke="#F7941D" stroke-width="0.95" fill="none"/><path d="M147.95 190.76H151.55M147.95 198.36H151.55" stroke="#F7941D" stroke-width="0.75" fill="none"/>
<path d="M161.50 190.76V198.36" stroke="#F7941D" stroke-width="0.95" fill="none"/><path d="M159.70 190.76H163.30M159.70 198.36H163.30" stroke="#F7941D" stroke-width="0.75" fill="none"/>
<path d="M174.00 190.76V198.36" stroke="#F7941D" stroke-width="0.95" fill="none"/><path d="M172.20 190.76H175.80M172.20 198.36H175.80" stroke="#F7941D" stroke-width="0.75" fill="none"/>
<path d="M184.25 190.76V198.36" stroke="#F7941D" stroke-width="0.95" fill="none"/><path d="M182.45 190.76H186.05M182.45 198.36H186.05" stroke="#F7941D" stroke-width="0.75" fill="none"/>
<path d="M195.75 190.76V198.36" stroke="#F7941D" stroke-width="0.95" fill="none"/><path d="M193.95 190.76H197.55M193.95 198.36H197.55" stroke="#F7941D" stroke-width="0.75" fill="none"/>
<path d="M206.25 190.76V198.36" stroke="#F7941D" stroke-width="0.95" fill="none"/><path d="M204.45 190.76H208.05M204.45 198.36H208.05" stroke="#F7941D" stroke-width="0.75" fill="none"/>
<path d="M218.00 190.76V198.36" stroke="#F7941D" stroke-width="0.95" fill="none"/><path d="M216.20 190.76H219.80M216.20 198.36H219.80" stroke="#F7941D" stroke-width="0.75" fill="none"/>
<path d="M230.50 190.76V198.36" stroke="#3FA34A" stroke-width="0.95" fill="none"/><path d="M228.70 190.76H232.30M228.70 198.36H232.30" stroke="#3FA34A" stroke-width="0.75" fill="none"/>
<path d="M243.00 190.71V198.41M239.15 191.79L246.85 197.33M239.15 197.33L246.85 191.79" stroke="#1B4075" stroke-width="0.95" fill="none"/>
<path d="M93.50 201.82V209.42" stroke="#F7941D" stroke-width="0.95" fill="none"/><path d="M91.70 201.82H95.30M91.70 209.42H95.30" stroke="#F7941D" stroke-width="0.75" fill="none"/>
<path d="M105.75 201.82V209.42" stroke="#3FA34A" stroke-width="0.95" fill="none"/><path d="M103.95 201.82H107.55M103.95 209.42H107.55" stroke="#3FA34A" stroke-width="0.75" fill="none"/>
<path d="M93.50 213.02V220.62" stroke="#8E86BE" stroke-width="0.95" fill="none"/><path d="M91.70 213.02H95.30M91.70 220.62H95.30" stroke="#8E86BE" stroke-width="0.75" fill="none"/>
<path d="M104.25 213.02V220.62" stroke="#8E86BE" stroke-width="0.95" fill="none"/><path d="M102.45 213.02H106.05M102.45 220.62H106.05" stroke="#8E86BE" stroke-width="0.75" fill="none"/>
<path d="M116.00 213.02V220.62" stroke="#F7941D" stroke-width="0.95" fill="none"/><path d="M114.20 213.02H117.80M114.20 220.62H117.80" stroke="#F7941D" stroke-width="0.75" fill="none"/>
<path d="M128.00 213.02V220.62" stroke="#3FA34A" stroke-width="0.95" fill="none"/><path d="M126.20 213.02H129.80M126.20 220.62H129.80" stroke="#3FA34A" stroke-width="0.75" fill="none"/>
<path d="M154.50 212.97V220.67M150.65 214.05L158.35 219.59M150.65 219.59L158.35 214.05" stroke="#1B4075" stroke-width="0.95" fill="none"/>
<path d="M94.25 224.21V231.81" stroke="#F7941D" stroke-width="0.95" fill="none"/><path d="M92.45 224.21H96.05M92.45 231.81H96.05" stroke="#F7941D" stroke-width="0.75" fill="none"/>
<path d="M105.75 224.21V231.81" stroke="#F7941D" stroke-width="0.95" fill="none"/><path d="M103.95 224.21H107.55M103.95 231.81H107.55" stroke="#F7941D" stroke-width="0.75" fill="none"/>
<path d="M117.00 224.21V231.81" stroke="#F7941D" stroke-width="0.95" fill="none"/><path d="M115.20 224.21H118.80M115.20 231.81H118.80" stroke="#F7941D" stroke-width="0.75" fill="none"/>
<path d="M128.00 224.21V231.81" stroke="#3FA34A" stroke-width="0.95" fill="none"/><path d="M126.20 224.21H129.80M126.20 231.81H129.80" stroke="#3FA34A" stroke-width="0.75" fill="none"/>
<path d="M138.75 224.16V231.86M134.90 225.24L142.60 230.78M134.90 230.78L142.60 225.24" stroke="#1B4075" stroke-width="0.95" fill="none"/>
<path d="M95.75 235.28V242.88" stroke="#F7941D" stroke-width="0.95" fill="none"/><path d="M93.95 235.28H97.55M93.95 242.88H97.55" stroke="#F7941D" stroke-width="0.75" fill="none"/>
<path d="M110.00 235.28V242.88" stroke="#F7941D" stroke-width="0.95" fill="none"/><path d="M108.20 235.28H111.80M108.20 242.88H111.80" stroke="#F7941D" stroke-width="0.75" fill="none"/>
<path d="M128.75 235.23V242.93M124.90 236.31L132.60 241.85M124.90 241.85L132.60 236.31" stroke="#1B4075" stroke-width="0.95" fill="none"/>
<path d="M94.25 246.48V254.08" stroke="#F7941D" stroke-width="0.95" fill="none"/><path d="M92.45 246.48H96.05M92.45 254.08H96.05" stroke="#F7941D" stroke-width="0.75" fill="none"/>
<path d="M105.75 246.48V254.08" stroke="#F7941D" stroke-width="0.95" fill="none"/><path d="M103.95 246.48H107.55M103.95 254.08H107.55" stroke="#F7941D" stroke-width="0.75" fill="none"/>
<path d="M117.00 246.48V254.08" stroke="#3FA34A" stroke-width="0.95" fill="none"/><path d="M115.20 246.48H118.80M115.20 254.08H118.80" stroke="#3FA34A" stroke-width="0.75" fill="none"/>
<path d="M153.75 246.43V254.13M149.90 247.51L157.60 253.05M149.90 253.05L157.60 247.51" stroke="#1B4075" stroke-width="0.95" fill="none"/>
<path d="M95.75 257.30V264.90" stroke="#F7941D" stroke-width="0.95" fill="none"/><path d="M93.95 257.30H97.55M93.95 264.90H97.55" stroke="#F7941D" stroke-width="0.75" fill="none"/>
<path d="M107.50 257.30V264.90" stroke="#F7941D" stroke-width="0.95" fill="none"/><path d="M105.70 257.30H109.30M105.70 264.90H109.30" stroke="#F7941D" stroke-width="0.75" fill="none"/>
<path d="M135.50 257.25V264.95M131.65 258.33L139.35 263.87M131.65 263.87L139.35 258.33" stroke="#1B4075" stroke-width="0.95" fill="none"/>
<path d="M93.50 268.80V276.40" stroke="#F7941D" stroke-width="0.95" fill="none"/><path d="M91.70 268.80H95.30M91.70 276.40H95.30" stroke="#F7941D" stroke-width="0.75" fill="none"/>
<path d="M105.00 268.80V276.40" stroke="#F7941D" stroke-width="0.95" fill="none"/><path d="M103.20 268.80H106.80M103.20 276.40H106.80" stroke="#F7941D" stroke-width="0.75" fill="none"/>
<path d="M116.00 268.80V276.40" stroke="#F7941D" stroke-width="0.95" fill="none"/><path d="M114.20 268.80H117.80M114.20 276.40H117.80" stroke="#F7941D" stroke-width="0.75" fill="none"/>
<path d="M128.00 268.80V276.40" stroke="#3FA34A" stroke-width="0.95" fill="none"/><path d="M126.20 268.80H129.80M126.20 276.40H129.80" stroke="#3FA34A" stroke-width="0.75" fill="none"/>
<path d="M141.00 268.80V276.40" stroke="#3FA34A" stroke-width="0.95" fill="none"/><path d="M139.20 268.80H142.80M139.20 276.40H142.80" stroke="#3FA34A" stroke-width="0.75" fill="none"/>
<path d="M207.95 268.80L215.55 276.40M207.95 276.40L215.55 268.80" stroke="#379CCE" stroke-width="1.0" fill="none"/>
<path d="M93.50 279.94V287.54" stroke="#8E86BE" stroke-width="0.95" fill="none"/><path d="M91.70 279.94H95.30M91.70 287.54H95.30" stroke="#8E86BE" stroke-width="0.75" fill="none"/>
<path d="M105.00 279.94V287.54" stroke="#F7941D" stroke-width="0.95" fill="none"/><path d="M103.20 279.94H106.80M103.20 287.54H106.80" stroke="#F7941D" stroke-width="0.75" fill="none"/>
<path d="M115.25 279.94V287.54" stroke="#F7941D" stroke-width="0.95" fill="none"/><path d="M113.45 279.94H117.05M113.45 287.54H117.05" stroke="#F7941D" stroke-width="0.75" fill="none"/>
<path d="M127.00 279.94V287.54" stroke="#3FA34A" stroke-width="0.95" fill="none"/><path d="M125.20 279.94H128.80M125.20 287.54H128.80" stroke="#3FA34A" stroke-width="0.75" fill="none"/>
<path d="M138.00 279.94V287.54" stroke="#3FA34A" stroke-width="0.95" fill="none"/><path d="M136.20 279.94H139.80M136.20 287.54H139.80" stroke="#3FA34A" stroke-width="0.75" fill="none"/>
<path d="M152.00 279.89V287.59M148.15 280.97L155.85 286.51M148.15 286.51L155.85 280.97" stroke="#1B4075" stroke-width="0.95" fill="none"/>
<path d="M200.95 279.94L208.55 287.54M200.95 287.54L208.55 279.94" stroke="#379CCE" stroke-width="1.0" fill="none"/>
<path d="M94.25 291.01V298.61" stroke="#8E86BE" stroke-width="0.95" fill="none"/><path d="M92.45 291.01H96.05M92.45 298.61H96.05" stroke="#8E86BE" stroke-width="0.75" fill="none"/>
<path d="M105.00 291.01V298.61" stroke="#8E86BE" stroke-width="0.95" fill="none"/><path d="M103.20 291.01H106.80M103.20 298.61H106.80" stroke="#8E86BE" stroke-width="0.75" fill="none"/>
<path d="M118.05 291.01L125.65 298.61M118.05 298.61L125.65 291.01" stroke="#379CCE" stroke-width="1.0" fill="none"/>
<path d="M93.50 302.33V309.93" stroke="#8E86BE" stroke-width="0.95" fill="none"/><path d="M91.70 302.33H95.30M91.70 309.93H95.30" stroke="#8E86BE" stroke-width="0.75" fill="none"/>
<path d="M104.25 302.33V309.93" stroke="#8E86BE" stroke-width="0.95" fill="none"/><path d="M102.45 302.33H106.05M102.45 309.93H106.05" stroke="#8E86BE" stroke-width="0.75" fill="none"/>
<path d="M115.25 302.33V309.93" stroke="#8E86BE" stroke-width="0.95" fill="none"/><path d="M113.45 302.33H117.05M113.45 309.93H117.05" stroke="#8E86BE" stroke-width="0.75" fill="none"/>
<path d="M127.00 302.33V309.93" stroke="#8E86BE" stroke-width="0.95" fill="none"/><path d="M125.20 302.33H128.80M125.20 309.93H128.80" stroke="#8E86BE" stroke-width="0.75" fill="none"/>
<path d="M149.75 302.33V309.93" stroke="#8E86BE" stroke-width="0.95" fill="none"/><path d="M147.95 302.33H151.55M147.95 309.93H151.55" stroke="#8E86BE" stroke-width="0.75" fill="none"/>
<path d="M215.00 302.28V309.98M211.15 303.36L218.85 308.90M211.15 308.90L218.85 303.36" stroke="#1B4075" stroke-width="0.95" fill="none"/>
<path d="M94.25 313.15V320.75" stroke="#8E86BE" stroke-width="0.95" fill="none"/><path d="M92.45 313.15H96.05M92.45 320.75H96.05" stroke="#8E86BE" stroke-width="0.75" fill="none"/>
<path d="M106.75 313.15V320.75" stroke="#8E86BE" stroke-width="0.95" fill="none"/><path d="M104.95 313.15H108.55M104.95 320.75H108.55" stroke="#8E86BE" stroke-width="0.75" fill="none"/>
<path d="M113.75 313.15V320.75" stroke="#3FA34A" stroke-width="0.95" fill="none"/><path d="M111.95 313.15H115.55M111.95 320.75H115.55" stroke="#3FA34A" stroke-width="0.75" fill="none"/>
<path d="M119.25 313.10V320.80M115.40 314.18L123.10 319.72M115.40 319.72L123.10 314.18" stroke="#1B4075" stroke-width="0.95" fill="none"/>
<path d="M93.50 324.72V332.32" stroke="#8E86BE" stroke-width="0.95" fill="none"/><path d="M91.70 324.72H95.30M91.70 332.32H95.30" stroke="#8E86BE" stroke-width="0.75" fill="none"/>
<path d="M105.75 324.72V332.32" stroke="#8E86BE" stroke-width="0.95" fill="none"/><path d="M103.95 324.72H107.55M103.95 332.32H107.55" stroke="#8E86BE" stroke-width="0.75" fill="none"/>
<path d="M119.25 324.67V332.37M115.40 325.75L123.10 331.29M115.40 331.29L123.10 325.75" stroke="#1B4075" stroke-width="0.95" fill="none"/>
<path d="M93.50 335.92V343.52" stroke="#8E86BE" stroke-width="0.95" fill="none"/><path d="M91.70 335.92H95.30M91.70 343.52H95.30" stroke="#8E86BE" stroke-width="0.75" fill="none"/>
<path d="M106.75 335.92V343.52" stroke="#3FA34A" stroke-width="0.95" fill="none"/><path d="M104.95 335.92H108.55M104.95 343.52H108.55" stroke="#3FA34A" stroke-width="0.75" fill="none"/>
<path d="M110.00 335.87V343.57M106.15 336.95L113.85 342.49M106.15 342.49L113.85 336.95" stroke="#1B4075" stroke-width="0.95" fill="none"/>
<path d="M93.50 346.86V354.46" stroke="#8E86BE" stroke-width="0.95" fill="none"/><path d="M91.70 346.86H95.30M91.70 354.46H95.30" stroke="#8E86BE" stroke-width="0.75" fill="none"/>
<path d="M103.00 346.86V354.46" stroke="#8E86BE" stroke-width="0.95" fill="none"/><path d="M101.20 346.86H104.80M101.20 354.46H104.80" stroke="#8E86BE" stroke-width="0.75" fill="none"/>
<path d="M111.50 346.86V354.46" stroke="#8E86BE" stroke-width="0.95" fill="none"/><path d="M109.70 346.86H113.30M109.70 354.46H113.30" stroke="#8E86BE" stroke-width="0.75" fill="none"/>
<path d="M125.50 346.86V354.46" stroke="#8E86BE" stroke-width="0.95" fill="none"/><path d="M123.70 346.86H127.30M123.70 354.46H127.30" stroke="#8E86BE" stroke-width="0.75" fill="none"/>
<path d="M144.25 346.86V354.46" stroke="#3FA34A" stroke-width="0.95" fill="none"/><path d="M142.45 346.86H146.05M142.45 354.46H146.05" stroke="#3FA34A" stroke-width="0.75" fill="none"/>
<path d="M149.50 346.81V354.51M145.65 347.89L153.35 353.43M145.65 353.43L153.35 347.89" stroke="#1B4075" stroke-width="0.95" fill="none"/>
<path d="M93.50 357.81V365.41" stroke="#8E86BE" stroke-width="0.95" fill="none"/><path d="M91.70 357.81H95.30M91.70 365.41H95.30" stroke="#8E86BE" stroke-width="0.75" fill="none"/>
<path d="M106.75 357.81V365.41" stroke="#8E86BE" stroke-width="0.95" fill="none"/><path d="M104.95 357.81H108.55M104.95 365.41H108.55" stroke="#8E86BE" stroke-width="0.75" fill="none"/>
<path d="M124.50 357.76V365.46M120.65 358.84L128.35 364.38M120.65 364.38L128.35 358.84" stroke="#1B4075" stroke-width="0.95" fill="none"/>
<path d="M93.50 368.88V376.48" stroke="#8E86BE" stroke-width="0.95" fill="none"/><path d="M91.70 368.88H95.30M91.70 376.48H95.30" stroke="#8E86BE" stroke-width="0.75" fill="none"/>
<path d="M107.50 368.83V376.53M103.65 369.91L111.35 375.45M103.65 375.45L111.35 369.91" stroke="#1B4075" stroke-width="0.95" fill="none"/>
<path d="M242.95 368.88L250.55 376.48M242.95 376.48L250.55 368.88" stroke="#379CCE" stroke-width="1.0" fill="none"/>
<path d="M93.50 380.32V387.92" stroke="#8E86BE" stroke-width="0.95" fill="none"/><path d="M91.70 380.32H95.30M91.70 387.92H95.30" stroke="#8E86BE" stroke-width="0.75" fill="none"/>
<path d="M105.75 380.32V387.92" stroke="#8E86BE" stroke-width="0.95" fill="none"/><path d="M103.95 380.32H107.55M103.95 387.92H107.55" stroke="#8E86BE" stroke-width="0.75" fill="none"/>
<path d="M116.75 380.32V387.92" stroke="#3FA34A" stroke-width="0.95" fill="none"/><path d="M114.95 380.32H118.55M114.95 387.92H118.55" stroke="#3FA34A" stroke-width="0.75" fill="none"/>
<path d="M119.40 380.32L127.00 387.92M119.40 387.92L127.00 380.32" stroke="#379CCE" stroke-width="1.0" fill="none"/>
<path d="M95.75 391.14V398.74" stroke="#8E86BE" stroke-width="0.95" fill="none"/><path d="M93.95 391.14H97.55M93.95 398.74H97.55" stroke="#8E86BE" stroke-width="0.75" fill="none"/>
<path d="M107.70 391.14L115.30 398.74M107.70 398.74L115.30 391.14" stroke="#379CCE" stroke-width="1.0" fill="none"/>
<path d="M92.75 402.28V409.98M88.90 403.36L96.60 408.90M88.90 408.90L96.60 403.36" stroke="#1B4075" stroke-width="0.95" fill="none"/>
<path d="M94.00 413.41V421.01" stroke="#3FA34A" stroke-width="0.95" fill="none"/><path d="M92.20 413.41H95.80M92.20 421.01H95.80" stroke="#3FA34A" stroke-width="0.75" fill="none"/>
<path d="M97.40 413.36V421.06M93.55 414.44L101.25 419.98M93.55 419.98L101.25 414.44" stroke="#1B4075" stroke-width="0.95" fill="none"/>
<path d="M94.25 424.60V432.20" stroke="#3FA34A" stroke-width="0.95" fill="none"/><path d="M92.45 424.60H96.05M92.45 432.20H96.05" stroke="#3FA34A" stroke-width="0.75" fill="none"/>
<path d="M105.75 424.60V432.20" stroke="#8E86BE" stroke-width="0.95" fill="none"/><path d="M103.95 424.60H107.55M103.95 432.20H107.55" stroke="#8E86BE" stroke-width="0.75" fill="none"/>
<path d="M115.80 424.60V432.20" stroke="#3FA34A" stroke-width="0.95" fill="none"/><path d="M114.00 424.60H117.60M114.00 432.20H117.60" stroke="#3FA34A" stroke-width="0.75" fill="none"/>
<path d="M122.00 424.55V432.25M118.15 425.63L125.85 431.17M118.15 431.17L125.85 425.63" stroke="#1B4075" stroke-width="0.95" fill="none"/>
<path d="M94.25 435.92V443.52" stroke="#3FA34A" stroke-width="0.95" fill="none"/><path d="M92.45 435.92H96.05M92.45 443.52H96.05" stroke="#3FA34A" stroke-width="0.75" fill="none"/>
<path d="M125.40 435.87V443.57M121.55 436.95L129.25 442.49M121.55 442.49L129.25 436.95" stroke="#1B4075" stroke-width="0.95" fill="none"/>
<path d="M129.00 435.92L136.60 443.52M129.00 443.52L136.60 435.92" stroke="#379CCE" stroke-width="1.0" fill="none"/>
<path d="M94.25 446.74V454.34" stroke="#3FA34A" stroke-width="0.95" fill="none"/><path d="M92.45 446.74H96.05M92.45 454.34H96.05" stroke="#3FA34A" stroke-width="0.75" fill="none"/>
<path d="M100.00 446.74V454.34" stroke="#3FA34A" stroke-width="0.95" fill="none"/><path d="M98.20 446.74H101.80M98.20 454.34H101.80" stroke="#3FA34A" stroke-width="0.75" fill="none"/>
<path d="M107.40 446.74L115.00 454.34M107.40 454.34L115.00 446.74" stroke="#379CCE" stroke-width="1.0" fill="none"/>
<path d="M87.70 458.01V465.71M83.85 459.09L91.55 464.63M83.85 464.63L91.55 459.09" stroke="#1B4075" stroke-width="0.95" fill="none"/>
<path d="M102.40 458.06L110.00 465.66M102.40 465.66L110.00 458.06" stroke="#379CCE" stroke-width="1.0" fill="none"/>
<path d="M98.00 469.13V476.73" stroke="#3FA34A" stroke-width="0.95" fill="none"/><path d="M96.20 469.13H99.80M96.20 476.73H99.80" stroke="#3FA34A" stroke-width="0.75" fill="none"/>
<path d="M101.90 469.13L109.50 476.73M101.90 476.73L109.50 469.13" stroke="#379CCE" stroke-width="1.0" fill="none"/>
<path d="M93.00 480.45V488.05" stroke="#3FA34A" stroke-width="0.95" fill="none"/><path d="M91.20 480.45H94.80M91.20 488.05H94.80" stroke="#3FA34A" stroke-width="0.75" fill="none"/>
<path d="M100.40 480.45L108.00 488.05M100.40 488.05L108.00 480.45" stroke="#379CCE" stroke-width="1.0" fill="none"/>
<path d="M93.00 491.59V499.19" stroke="#3FA34A" stroke-width="0.95" fill="none"/><path d="M91.20 491.59H94.80M91.20 499.19H94.80" stroke="#3FA34A" stroke-width="0.75" fill="none"/>
<path d="M95.45 491.59L103.05 499.19M95.45 499.19L103.05 491.59" stroke="#379CCE" stroke-width="1.0" fill="none"/>
<path d="M114.25 502.84V510.44" stroke="#3FA34A" stroke-width="0.95" fill="none"/><path d="M112.45 502.84H116.05M112.45 510.44H116.05" stroke="#3FA34A" stroke-width="0.75" fill="none"/>
<path d="M108.00 502.79V510.49M104.15 503.87L111.85 509.41M104.15 509.41L111.85 503.87" stroke="#1B4075" stroke-width="0.95" fill="none"/>
<path d="M115.70 502.84L123.30 510.44M115.70 510.44L123.30 502.84" stroke="#379CCE" stroke-width="1.0" fill="none"/>
<path d="M97.45 513.79L105.05 521.39M97.45 521.39L105.05 513.79" stroke="#379CCE" stroke-width="1.0" fill="none"/>
<path d="M88.00 524.98L95.60 532.58M88.00 532.58L95.60 524.98" stroke="#379CCE" stroke-width="1.0" fill="none"/>
<path d="M86.20 535.93L93.80 543.53M86.20 543.53L93.80 535.93" stroke="#379CCE" stroke-width="1.0" fill="none"/>
<line x1="73.4" y1="36.25" x2="73.4" y2="186.6" stroke="#0a0a0a" stroke-width="1.7"/>
<line x1="73.4" y1="190.9" x2="73.4" y2="299.3" stroke="#0a0a0a" stroke-width="1.7"/>
<line x1="73.4" y1="304" x2="73.4" y2="399" stroke="#0a0a0a" stroke-width="1.7"/>
<line x1="73.4" y1="403.7" x2="73.4" y2="499" stroke="#0a0a0a" stroke-width="1.7"/>
<path d="M73.4 503.5V547H509.8" stroke="#0a0a0a" stroke-width="1.5" fill="none"/>
<line x1="82.50" y1="547" x2="82.50" y2="551.5" stroke="#111" stroke-width="1.2"/>
<text x="82.50" y="566.8" font-size="11.6" text-anchor="middle">0</text>
<line x1="107.15" y1="547" x2="107.15" y2="551.5" stroke="#111" stroke-width="1.2"/>
<text x="107.15" y="566.8" font-size="11.6" text-anchor="middle">4</text>
<line x1="131.80" y1="547" x2="131.80" y2="551.5" stroke="#111" stroke-width="1.2"/>
<text x="131.80" y="566.8" font-size="11.6" text-anchor="middle">8</text>
<line x1="156.44" y1="547" x2="156.44" y2="551.5" stroke="#111" stroke-width="1.2"/>
<text x="156.44" y="566.8" font-size="11.6" text-anchor="middle">12</text>
<line x1="181.09" y1="547" x2="181.09" y2="551.5" stroke="#111" stroke-width="1.2"/>
<text x="181.09" y="566.8" font-size="11.6" text-anchor="middle">16</text>
<line x1="205.74" y1="547" x2="205.74" y2="551.5" stroke="#111" stroke-width="1.2"/>
<text x="205.74" y="566.8" font-size="11.6" text-anchor="middle">20</text>
<line x1="230.39" y1="547" x2="230.39" y2="551.5" stroke="#111" stroke-width="1.2"/>
<text x="230.39" y="566.8" font-size="11.6" text-anchor="middle">24</text>
<line x1="255.04" y1="547" x2="255.04" y2="551.5" stroke="#111" stroke-width="1.2"/>
<text x="255.04" y="566.8" font-size="11.6" text-anchor="middle">28</text>
<line x1="279.68" y1="547" x2="279.68" y2="551.5" stroke="#111" stroke-width="1.2"/>
<text x="279.68" y="566.8" font-size="11.6" text-anchor="middle">32</text>
<line x1="304.33" y1="547" x2="304.33" y2="551.5" stroke="#111" stroke-width="1.2"/>
<text x="304.33" y="566.8" font-size="11.6" text-anchor="middle">36</text>
<line x1="328.98" y1="547" x2="328.98" y2="551.5" stroke="#111" stroke-width="1.2"/>
<text x="328.98" y="566.8" font-size="11.6" text-anchor="middle">40</text>
<line x1="353.63" y1="547" x2="353.63" y2="551.5" stroke="#111" stroke-width="1.2"/>
<text x="353.63" y="566.8" font-size="11.6" text-anchor="middle">44</text>
<line x1="378.28" y1="547" x2="378.28" y2="551.5" stroke="#111" stroke-width="1.2"/>
<text x="378.28" y="566.8" font-size="11.6" text-anchor="middle">48</text>
<line x1="402.92" y1="547" x2="402.92" y2="551.5" stroke="#111" stroke-width="1.2"/>
<text x="402.92" y="566.8" font-size="11.6" text-anchor="middle">52</text>
<line x1="427.57" y1="547" x2="427.57" y2="551.5" stroke="#111" stroke-width="1.2"/>
<text x="427.57" y="566.8" font-size="11.6" text-anchor="middle">56</text>
<line x1="452.22" y1="547" x2="452.22" y2="551.5" stroke="#111" stroke-width="1.2"/>
<text x="452.22" y="566.8" font-size="11.6" text-anchor="middle">60</text>
<line x1="476.87" y1="547" x2="476.87" y2="551.5" stroke="#111" stroke-width="1.2"/>
<text x="476.87" y="566.8" font-size="11.6" text-anchor="middle">64</text>
<line x1="501.52" y1="547" x2="501.52" y2="551.5" stroke="#111" stroke-width="1.2"/>
<text x="501.52" y="566.8" font-size="11.6" text-anchor="middle">68</text>
<text x="34.2" y="112.8" font-size="11.8" textLength="17.0" lengthAdjust="spacingAndGlyphs">CR</text>
<text x="35.2" y="249.6" font-size="11.8" textLength="15.5" lengthAdjust="spacingAndGlyphs">PR</text>
<text x="34.4" y="358.3" font-size="11.8" textLength="16.5" lengthAdjust="spacingAndGlyphs">SD</text>
<text x="34.9" y="451.6" font-size="11.8" textLength="15.9" lengthAdjust="spacingAndGlyphs">PD</text>
<text x="34.9" y="533.1" font-size="11.8" textLength="16.1" lengthAdjust="spacingAndGlyphs">NA</text>
<text x="10.5" y="20.75" font-size="11.8" textLength="60.3" lengthAdjust="spacingAndGlyphs">Best overall</text>
<text x="16.5" y="35.2" font-size="11.8" textLength="47.3" lengthAdjust="spacingAndGlyphs">response</text>
<text x="227.1" y="587.2" font-size="14" textLength="111.4" lengthAdjust="spacingAndGlyphs" stroke="#231f20" stroke-width="0.35">Time since first dose, mo</text>
<path d="M13.30 599.80V614.80" stroke="#CE1A79" stroke-width="1.25" fill="none"/><path d="M10.15 599.80H16.45M10.15 614.80H16.45" stroke="#CE1A79" stroke-width="1.05" fill="none"/>
<text x="21.2" y="610.9" font-size="11.5" textLength="16.2" lengthAdjust="spacingAndGlyphs">CR</text>
<path d="M50.00 599.80V614.80" stroke="#F7941D" stroke-width="1.25" fill="none"/><path d="M46.85 599.80H53.15M46.85 614.80H53.15" stroke="#F7941D" stroke-width="1.05" fill="none"/>
<text x="58" y="610.9" font-size="11.5" textLength="15.3" lengthAdjust="spacingAndGlyphs">PR</text>
<path d="M85.00 599.80V614.80" stroke="#8E86BE" stroke-width="1.25" fill="none"/><path d="M81.85 599.80H88.15M81.85 614.80H88.15" stroke="#8E86BE" stroke-width="1.05" fill="none"/>
<text x="92.5" y="610.9" font-size="11.5" textLength="15.5" lengthAdjust="spacingAndGlyphs">SD</text>
<path d="M121.00 599.80V614.80" stroke="#3FA34A" stroke-width="1.25" fill="none"/><path d="M117.85 599.80H124.15M117.85 614.80H124.15" stroke="#3FA34A" stroke-width="1.05" fill="none"/>
<text x="128.8" y="610.9" font-size="11.5" textLength="14.8" lengthAdjust="spacingAndGlyphs">PD</text>
<rect x="153.25" y="605.6" width="9.75" height="2.9" fill="#5F300E"/>
<text x="168.75" y="610.9" font-size="11.5" textLength="15.0" lengthAdjust="spacingAndGlyphs">NA</text>
<rect x="193.25" y="605.7" width="9.75" height="2.7" fill="#B8B9BC"/>
<text x="208" y="610.9" font-size="11.2" textLength="69.5" lengthAdjust="spacingAndGlyphs">Treatment-free</text>
<text x="208" y="623.4" font-size="11.2" textLength="42.3" lengthAdjust="spacingAndGlyphs">follow-up</text>
<path d="M295.00 602.35V612.15M290.10 603.72L299.90 610.78M290.10 610.78L299.90 603.72" stroke="#1B4075" stroke-width="0.95" fill="none"/>
<text x="304.5" y="610.9" font-size="11.2" textLength="84.75" lengthAdjust="spacingAndGlyphs">First date of other</text>
<text x="304.5" y="623.4" font-size="11.2" textLength="88.0" lengthAdjust="spacingAndGlyphs">anticancer therapy</text>
<path d="M403.15 602.80L412.35 612.00M403.15 612.00L412.35 602.80" stroke="#379CCE" stroke-width="1.0" fill="none"/>
<text x="417" y="610.9" font-size="11.2" textLength="92.25" lengthAdjust="spacingAndGlyphs">Discontinued study</text>
<rect x="0.5" y="0.5" width="519" height="636" fill="none" stroke="#111" stroke-width="1"/>
</svg>
</body></html>
